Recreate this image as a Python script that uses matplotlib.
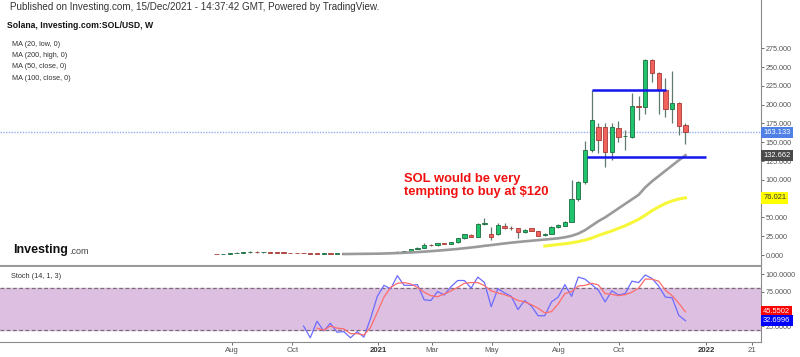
import numpy as np
import matplotlib.pyplot as plt

plt.rcParams['font.family'] = ['Liberation Sans', 'DejaVu Sans']

# weekly SOL/USD candles, bar index 0..70
opens = [1.0, 1.3, 2.0, 2.6, 3.2, 3.5, 3.9, 3.4, 3.6, 3.3,
         3.2, 3.0, 2.7, 2.4, 2.3, 2.0, 1.9, 2.0, 1.8, 1.9,
         1.6, 1.4, 1.5, 1.7, 1.9, 2.3, 3.0, 3.6, 4.5, 6.0,
         8.2, 9.8, 13.4, 13.0, 15.5, 15.1, 16.8, 22.2, 26.6, 24.4,
         41.2, 27.5, 28.0, 39.0, 36.2, 35.5, 30.0, 35.5, 32.0, 26.0,
         28.0, 37.0, 39.0, 44.3, 74.0, 97.0, 139.6, 170.0, 170.0, 136.6,
         169.0, 158.0, 157.0, 198.0, 196.4, 259.0, 242.0, 219.0, 194.0, 202.0,
         172.5]
highs = [1.1, 1.8, 2.7, 3.7, 4.1, 4.7, 4.9, 3.9, 3.8, 3.5,
         3.4, 3.2, 2.9, 2.6, 2.4, 2.2, 2.2, 2.1, 2.0, 2.0,
         1.7, 1.6, 1.8, 2.0, 2.4, 3.2, 3.8, 4.7, 6.0, 8.5,
         10.5, 16.0, 14.2, 16.5, 16.2, 17.2, 23.0, 28.0, 28.5, 42.0,
         49.0, 37.5, 43.0, 43.0, 39.0, 36.0, 34.0, 36.5, 32.5, 29.5,
         38.0, 41.0, 45.0, 100.0, 98.0, 152.0, 219.0, 175.0, 176.0, 176.0,
         178.0, 166.0, 215.0, 212.0, 260.0, 260.5, 243.0, 236.0, 245.0, 204.0,
         176.0]
lows = [0.8, 1.2, 1.9, 2.5, 3.0, 3.3, 3.3, 3.2, 3.1, 2.9,
        2.8, 2.6, 2.3, 2.1, 1.9, 1.8, 1.8, 1.7, 1.7, 1.5,
        1.3, 1.3, 1.4, 1.6, 1.8, 2.2, 2.9, 3.4, 4.3, 5.7,
        7.8, 9.5, 12.0, 12.6, 14.2, 14.6, 16.3, 21.5, 23.5, 23.5,
        40.5, 20.0, 27.0, 35.0, 33.0, 22.0, 29.0, 31.5, 25.0, 25.0,
        27.5, 36.0, 38.5, 43.5, 72.0, 95.0, 137.0, 136.0, 117.0, 126.0,
        150.0, 139.0, 155.0, 180.0, 188.0, 230.0, 188.0, 183.0, 175.0, 159.0,
        147.0]
closes = [0.9, 1.6, 2.4, 3.2, 3.6, 3.9, 3.5, 3.6, 3.3, 3.1,
          3.0, 2.7, 2.4, 2.2, 2.0, 1.9, 2.0, 1.8, 1.9, 1.6,
          1.4, 1.5, 1.7, 1.9, 2.3, 3.0, 3.6, 4.5, 5.8, 8.0,
          9.8, 13.3, 12.9, 15.5, 15.0, 16.8, 22.2, 27.5, 24.4, 41.2,
          42.5, 23.5, 39.5, 36.0, 35.8, 30.0, 33.0, 32.5, 25.7, 28.5,
          37.0, 40.0, 44.3, 74.0, 97.0, 139.6, 179.5, 153.0, 136.6, 170.0,
          157.0, 158.5, 198.0, 196.4, 259.0, 242.0, 219.0, 194.0, 202.0, 171.5,
          163.133]

# MA (20, low) - gray, from bar 19
ma20_start = 19
ma20 = [1.3, 1.4, 1.5, 1.6, 1.7, 1.8, 2.0, 2.3, 2.6, 3.0,
        3.4, 3.9, 4.5, 5.1, 5.8, 6.5, 7.3, 8.1, 9.0, 10.0,
        11.0, 12.2, 13.2, 14.3, 15.4, 16.4, 17.3, 18.2, 19.0, 19.8,
        20.6, 21.4, 22.2, 23.6, 25.5, 28.5, 33.0, 39.0, 45.0, 50.0,
        56.0, 62.0, 68.0, 74.0, 80.0, 90.0, 98.0, 105.0, 112.0, 119.0,
        126.0, 132.662]
# MA (50, close) - yellow, from bar 49
ma50_start = 49
ma50 = [12.0, 13.0, 14.0, 15.0, 16.2, 17.8, 19.8, 22.5, 26.0, 29.0,
        32.0, 35.5, 39.0, 43.0, 47.5, 53.0, 59.0, 64.0, 68.5, 72.0,
        74.5, 76.021]

# hand drawn levels: (price, from bar, to bar)
levels = [(219.4, 56.0, 67.1), (130.7, 55.3, 73.1)]
last_price = 163.133

# Stoch (14, 1, 3)
k_start = 13
stoch_k = [25, 8, 32, 18, 29, 16, 17, 8, 17, 9,
           36, 68, 84, 79, 98, 84, 84, 85, 63, 62,
           75, 70, 82, 91, 91, 80, 96, 88, 53, 79,
           73, 68, 49, 62, 54, 40, 40, 60, 67, 85,
           68, 96, 93, 85, 77, 60, 76, 70, 72, 90,
           88, 99, 94, 83, 67, 66, 40.5, 32.6996]
d_start = 15
stoch_d = [22, 19, 25, 22, 21, 14, 14, 12, 23, 45,
           67, 81, 87, 88, 86, 81, 74, 69, 67.5, 71.5,
           76, 81, 87, 88, 88, 83.5, 76, 73, 70.5, 67,
           62, 60, 56, 51, 44, 46, 57, 72, 75, 83,
           84, 87, 84.5, 72, 71, 69, 70.5, 74, 80, 93,
           93, 90, 77, 69, 58, 45.5502]

tick_pos = [2.3, 11.3, 24.1, 32.2, 41.1, 51.1, 60.1, 73.1, 79.9]
tick_labels = ['Aug', 'Oct', '2021', 'Mar', 'May', 'Aug', 'Oct', '2022', '21']
price_ticks = [0, 25, 50, 75, 100, 125, 150, 175, 200, 225, 250, 275]

fig = plt.figure(figsize=(8, 3.57), dpi=100)
W, H = 800.0, 357.0
ax = fig.add_axes([0, 1 - 266 / H, 761 / W, 266 / H])
ax2 = fig.add_axes([0, 1 - 342 / H, 761 / W, (342 - 266.5) / H])

xlim = (-32.31, 81.27)
n = len(opens)
x = np.arange(n)
o = np.array(opens); c = np.array(closes)
up = c >= o

# wicks
ax.vlines(x, lows, highs, color='#5f7a6c', lw=0.9, zorder=2)
# bodies
bottom = np.minimum(o, c)
height = np.maximum(np.abs(c - o), 0.6)
ax.bar(x[up], height[up], bottom=bottom[up], width=0.64,
       color='#1fc46c', edgecolor='#1c6b41', lw=0.6, zorder=3)
ax.bar(x[~up], height[~up], bottom=bottom[~up], width=0.64,
       color='#f2625c', edgecolor='#a53a36', lw=0.6, zorder=3)

ax.plot(np.arange(ma20_start, ma20_start + len(ma20)), ma20,
        color='#9a9a9a', lw=1.9, zorder=4)
ax.plot(np.arange(ma50_start, ma50_start + len(ma50)), ma50,
        color='#f7f73a', lw=2.2, zorder=4)

for lvl, x0, x1 in levels:
    ax.hlines(lvl, x0, x1, color='#1414f0', lw=1.8, zorder=5)

ax.axhline(last_price, color='#93aef0', lw=1, ls=(0, (1, 1)), zorder=1)

ax.set_xlim(xlim)
ax.set_ylim(-14.6, 339.1)
ax.set_xticks([])
ax.yaxis.tick_right()
ax.set_yticks(price_ticks)
# the 75 label sits fully under the MA(50) value tag
ax.set_yticklabels(['' if t == 75 else '%.3f' % t for t in price_ticks])
ax.tick_params(axis='y', labelsize=5.2, colors='#555555', length=2, width=0.6, pad=1.5)
for s in ['top', 'left']:
    ax.spines[s].set_visible(False)
ax.spines['right'].set_color('#8a8a8a')
ax.spines['bottom'].set_color('#9a9a9a')
ax.spines['bottom'].set_linewidth(1.5)


def tag(a, y, text, fc, tc):
    a.annotate(text, xy=(1, y), xycoords=('axes fraction', 'data'),
               xytext=(1.5, 0), textcoords='offset points', va='center', ha='left',
               fontsize=5.4, color=tc, annotation_clip=False, zorder=10,
               bbox=dict(boxstyle='square,pad=0.3', fc=fc, ec='none'))


tag(ax, last_price, '%.3f' % last_price, '#4f80e6', 'white')
tag(ax, ma20[-1], '%.3f' % ma20[-1], '#4a4a4a', 'white')
tag(ax, ma50[-1], '%.3f' % ma50[-1], '#ffff00', '#333333')

fig.text(404 / W, 1 - 185.5 / H, 'SOL would be very\ntempting to buy at $120',
         fontsize=9.4, fontweight='bold', color='#f01010',
         va='center', ha='left')

# stochastic panel
ax2.axhspan(20, 80, color='#ddc0e1', zorder=0)
for lvl in (20, 80):
    ax2.axhline(lvl, color='#7a6a7a', lw=0.9, ls=(0, (3, 2)), zorder=1)
ax2.plot(np.arange(k_start, k_start + len(stoch_k)), stoch_k, color='#6b6bff', lw=0.9, zorder=3)
ax2.plot(np.arange(d_start, d_start + len(stoch_d)), stoch_d, color='#ff6b6b', lw=0.9, zorder=3)
ax2.set_xlim(xlim)
ax2.set_ylim(1.9, 111.3)
ax2.yaxis.tick_right()
ax2.set_yticks([25, 75, 100])
ax2.set_yticklabels(['25.0000', '75.0000', '100.0000'])
ax2.tick_params(axis='y', labelsize=5.2, colors='#555555', length=2, width=0.6, pad=1.5)
ax2.set_xticks(tick_pos)
ax2.set_xticklabels(tick_labels)
ax2.tick_params(axis='x', labelsize=5.6, colors='#555555', length=2, width=0.6, pad=1.5)
for lab in ax2.get_xticklabels():
    if lab.get_text() in ('2021', '2022'):
        lab.set_fontweight('bold')
        lab.set_color('#333333')
for s in ['top', 'left']:
    ax2.spines[s].set_visible(False)
ax2.spines['right'].set_color('#8a8a8a')
ax2.spines['bottom'].set_color('#8a8a8a')
tag(ax2, stoch_d[-1], '%.4f' % stoch_d[-1], '#ff0000', 'white')
tag(ax2, stoch_k[-1], '%.4f' % stoch_k[-1], '#0000ff', 'white')

fig.text(11 / W, 1 - 277 / H, 'Stoch (14, 1, 3)', fontsize=5.3, color='#333333', va='center')

# header
fig.text(10 / W, 1 - 7 / H,
         'Published on Investing.com, 15/Dec/2021 - 14:37:42 GMT, Powered by TradingView.',
         fontsize=7.1, color='#333333', va='center')
fig.text(7 / W, 1 - 25 / H, 'Solana, Investing.com:SOL/USD, W',
         fontsize=6.2, fontweight='bold', color='#111111', va='center')
for i, lab in enumerate(['MA (20, low, 0)', 'MA (200, high, 0)',
                         'MA (50, close, 0)', 'MA (100, close, 0)']):
    fig.text(12 / W, 1 - (44 + 11.5 * i) / H, lab, fontsize=5.2, color='#333333', va='center')

# logo
fig.text(13 / W, 1 - 250 / H, 'Investing', fontsize=9, fontweight='bold',
         color='#111111', va='center')
fig.text(69 / W, 1 - 251 / H, '.com', fontsize=6.5, color='#444444', va='center')

fig.savefig('out.png', dpi=100)
